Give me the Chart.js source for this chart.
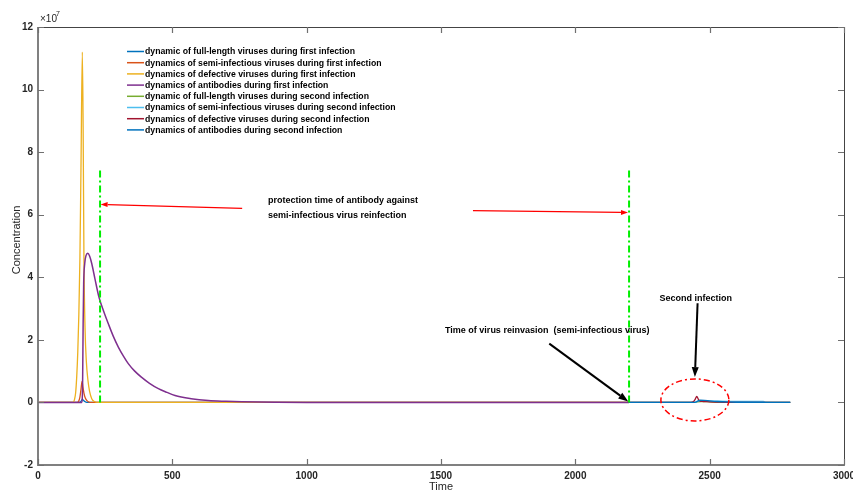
<!DOCTYPE html>
<html>
<head>
<meta charset="utf-8">
<script src="https://cdn.jsdelivr.net/npm/chart.js"></script>
<style>
  body { margin: 0; background: #fff; }
  #wrap { width: 853px; height: 493px; }
</style>
</head>
<body>
<div id="wrap"><canvas id="virusChart" width="853" height="493"></canvas></div>
<script>
// concentrations are in units of 1e7
const labels = [
  "dynamic of full-length viruses during first infection",
  "dynamics of semi-infectious viruses during first infection",
  "dynamics of defective viruses during first infection",
  "dynamics of antibodies during first infection",
  "dynamic of full-length viruses during second infection",
  "dynamics of semi-infectious viruses during second infection",
  "dynamics of defective viruses during second infection",
  "dynamics of antibodies during second infection",
];
const colors = ["#0072BD", "#D95319", "#EDB120", "#7E2F8E", "#77AC30", "#4DBEEE", "#A2142F", "#0072BD"];

const fullFirstT = [0, 150, 158, 162, 165, 169, 174, 182, 2200];
const fullFirst = [0, 0, 0.02, 0.06, 0.1, 0.07, 0.03, 0, 0];

const semiFirstT = [0, 146, 152, 156, 160, 164, 167, 171, 176, 183, 194, 2200];
const semiFirst = [0, 0, 0.05, 0.17, 0.42, 0.67, 0.5, 0.3, 0.14, 0.05, 0, 0];

const defFirstT = [0, 130, 136, 140, 144, 148, 152, 156, 160, 165, 168, 171, 175, 180, 186, 192, 200, 210, 225, 2200];
const defFirst = [0, 0, 0.1, 0.3, 0.8, 1.6, 2.8, 4.6, 7.5, 11.2, 8.8, 4.6, 2.4, 1.3, 0.7, 0.35, 0.12, 0.03, 0, 0];

const abFirstT = [0, 163, 166, 168, 170, 174, 179, 185, 192, 200, 212, 227, 245, 262, 280, 299, 318, 336, 360, 386, 415, 448, 480, 510, 570, 634, 700, 758, 820, 882, 1000, 2200];
const abFirst = [0, 0, 0.6, 2.5, 3.8, 4.45, 4.7, 4.77, 4.68, 4.44, 3.95, 3.36, 2.9, 2.51, 2.12, 1.77, 1.48, 1.24, 1.0, 0.8, 0.61, 0.44, 0.32, 0.22, 0.12, 0.06, 0.035, 0.02, 0.01, 0.005, 0, 0];

const fullSecondT = [2200, 2440, 2455, 2470, 2500, 2540, 2800];
const fullSecond = [0, 0, 0.02, 0.03, 0.02, 0, 0];

const semiSecondT = [2200, 2445, 2460, 2480, 2520, 2600, 2700, 2710, 2800];
const semiSecond = [0, 0, 0.05, 0.05, 0.04, 0.035, 0.03, 0, 0];

const defSecondT = [2200, 2430, 2440, 2446, 2452, 2458, 2464, 2475, 2500, 2540, 2570, 2800];
const defSecond = [0, 0, 0.03, 0.1, 0.19, 0.1, 0.04, 0.03, 0.02, 0.01, 0, 0];

const abSecondT = [2200, 2445, 2455, 2465, 2480, 2500, 2530, 2560, 2600, 2800];
const abSecond = [0, 0, 0.04, 0.07, 0.065, 0.05, 0.03, 0.015, 0.005, 0];

// protection-time markers (dash-dot green)
const markerT = [231, 2200];
const markerTop = 7.5;

const xTicks = [0, 500, 1000, 1500, 2000, 2500, 3000];
const yTicks = [-2, 0, 2, 4, 6, 8, 10, 12];

const seriesT = [fullFirstT, semiFirstT, defFirstT, abFirstT, fullSecondT, semiSecondT, defSecondT, abSecondT];
const seriesV = [fullFirst, semiFirst, defFirst, abFirst, fullSecond, semiSecond, defSecond, abSecond];

const FONT = "'Liberation Sans', Arial, sans-serif";

function points(ts, vs) {
  return ts.map((t, i) => ({ x: t, y: vs[i] }));
}

const datasets = labels.map((label, i) => ({
  label,
  data: points(seriesT[i], seriesV[i]),
  borderColor: colors[i],
  borderWidth: i === 3 ? 1.5 : 1.3,
  pointRadius: 0,
  cubicInterpolationMode: "monotone",
  order: 10 - i,
}));

markerT.forEach((t) => {
  datasets.push({
    label: "",
    data: points([t, t], [0, markerTop]),
    borderColor: "#00ee00",
    borderWidth: 2,
    borderDash: [7, 3, 2, 3],
    pointRadius: 0,
    order: 0,
  });
});

function arrow(ctx, x1, y1, x2, y2, color, width, headLen, headHalf) {
  const a = Math.atan2(y2 - y1, x2 - x1);
  const bx = x2 - headLen * Math.cos(a);
  const by = y2 - headLen * Math.sin(a);
  ctx.strokeStyle = color;
  ctx.fillStyle = color;
  ctx.lineWidth = width;
  ctx.setLineDash([]);
  ctx.beginPath();
  ctx.moveTo(x1, y1);
  ctx.lineTo(bx, by);
  ctx.stroke();
  ctx.beginPath();
  ctx.moveTo(x2, y2);
  ctx.lineTo(bx + headHalf * Math.sin(a), by - headHalf * Math.cos(a));
  ctx.lineTo(bx - headHalf * Math.sin(a), by + headHalf * Math.cos(a));
  ctx.closePath();
  ctx.fill();
}

const annotate = {
  id: "annotate",
  afterDatasetsDraw(chart) {
    const { ctx, scales: { x, y } } = chart;
    const px = (t) => x.getPixelForValue(t);
    const py = (v) => y.getPixelForValue(v);
    ctx.save();

    arrow(ctx, px(760), py(6.2), px(233), py(6.33), "#ff0000", 1.2, 7, 2.5);
    arrow(ctx, px(1619), py(6.13), px(2196), py(6.07), "#ff0000", 1.2, 7, 2.5);
    arrow(ctx, px(1903), py(1.88), px(2197), py(0.03), "#000000", 2, 10, 3.5);
    arrow(ctx, px(2455), py(3.17), px(2445), py(0.81), "#000000", 2, 10, 3.5);

    ctx.fillStyle = "#000";
    ctx.textBaseline = "middle";
    ctx.textAlign = "left";
    ctx.font = "bold 9px " + FONT;
    ctx.fillText("protection time of antibody against", px(856), py(6.45));
    ctx.fillText("semi-infectious virus reinfection", px(856), py(5.97));
    ctx.fillText("Time of virus reinvasion  (semi-infectious virus)", px(1515), py(2.3));
    ctx.fillText("Second infection", px(2313), py(3.32));

    // dash-dot ring round the second infection
    ctx.strokeStyle = "#ff0000";
    ctx.lineWidth = 1.5;
    ctx.setLineDash([6, 3, 2, 3]);
    ctx.beginPath();
    ctx.ellipse(px(2445), py(0.08), 34, 21, 0, 0, Math.PI * 2);
    ctx.stroke();
    ctx.restore();
  },
  afterDraw(chart) {
    const { ctx, chartArea: a, scales: { x, y } } = chart;
    ctx.save();
    ctx.setLineDash([]);

    // axes box, matlab style
    ctx.strokeStyle = "#444";
    ctx.lineWidth = 1;
    ctx.beginPath();
    ctx.moveTo(a.left, a.top + 0.5);
    ctx.lineTo(a.right + 0.5, a.top + 0.5);
    ctx.lineTo(a.right + 0.5, a.bottom);
    ctx.stroke();
    ctx.strokeStyle = "#808080";
    ctx.lineWidth = 2;
    ctx.beginPath();
    ctx.moveTo(a.left, a.top);
    ctx.lineTo(a.left, a.bottom);
    ctx.lineTo(a.right + 1, a.bottom);
    ctx.stroke();

    ctx.lineWidth = 1.2;
    ctx.strokeStyle = "#707070";
    ctx.beginPath();
    xTicks.forEach((t) => {
      const p = Math.round(x.getPixelForValue(t)) + 0.5;
      ctx.moveTo(p, a.bottom);
      ctx.lineTo(p, a.bottom - 6);
      ctx.moveTo(p, a.top);
      ctx.lineTo(p, a.top + 6);
    });
    yTicks.forEach((v) => {
      const p = Math.round(y.getPixelForValue(v)) + 0.5;
      ctx.moveTo(a.left, p);
      ctx.lineTo(a.left + 6, p);
      ctx.moveTo(a.right, p);
      ctx.lineTo(a.right - 6, p);
    });
    ctx.stroke();

    // tick labels and axis titles
    ctx.fillStyle = "#262626";
    ctx.font = "bold 10px " + FONT;
    ctx.textBaseline = "middle";
    ctx.textAlign = "center";
    xTicks.forEach((t) => ctx.fillText(String(t), x.getPixelForValue(t), a.bottom + 11));
    ctx.textAlign = "right";
    yTicks.forEach((v) => ctx.fillText(String(v), a.left - 5, y.getPixelForValue(v)));
    ctx.font = "11px " + FONT;
    ctx.textAlign = "center";
    ctx.fillText("Time", (a.left + a.right) / 2, 487);
    ctx.save();
    ctx.translate(17, (a.top + a.bottom) / 2 - 6);
    ctx.rotate(-Math.PI / 2);
    ctx.fillText("Concentration", 0, 0);
    ctx.restore();

    // exponent label
    ctx.textBaseline = "alphabetic";
    ctx.textAlign = "left";
    ctx.font = "10px " + FONT;
    ctx.fillText("\u00d710", a.left + 2, a.top - 5);
    ctx.font = "7px " + FONT;
    ctx.fillText("7", a.left + 18, a.top - 11);

    // legend
    ctx.font = "bold 8.7px " + FONT;
    ctx.textBaseline = "middle";
    labels.forEach((label, i) => {
      const ly = 51.5 + i * 11.2;
      ctx.strokeStyle = colors[i];
      ctx.lineWidth = 1.5;
      ctx.beginPath();
      ctx.moveTo(127, ly);
      ctx.lineTo(144, ly);
      ctx.stroke();
      ctx.fillStyle = "#000";
      ctx.fillText(label, 145, ly + 0.5);
    });
    ctx.restore();
  },
};

new Chart(document.getElementById("virusChart"), {
  type: "line",
  data: { datasets },
  plugins: [annotate],
  options: {
    responsive: false,
    animation: false,
    devicePixelRatio: 1,
    layout: { padding: { left: 38, top: 27, right: 9, bottom: 28 } },
    plugins: {
      legend: { display: false },
      tooltip: { enabled: false },
    },
    scales: {
      x: {
        type: "linear",
        min: 0,
        max: 3000,
        display: false,
      },
      y: {
        type: "linear",
        min: -2,
        max: 12,
        display: false,
      },
    },
  },
});
</script>
</body>
</html>
